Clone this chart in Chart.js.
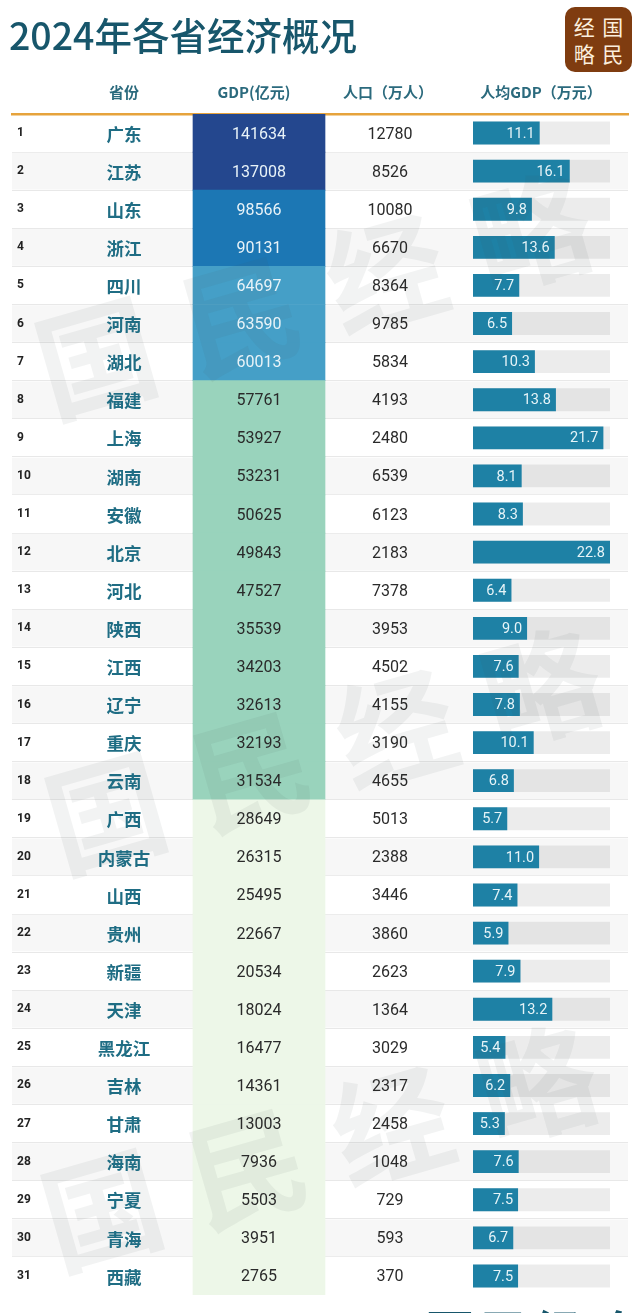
<!DOCTYPE html>
<html lang="zh-CN">
<head>
<meta charset="utf-8">
<title>2024年各省经济概况</title>
<script src="https://cdn.jsdelivr.net/npm/chart.js@4"></script>
<style>
  html, body { margin: 0; padding: 0; background: #fff; }
  body { position: relative; width: 640px; height: 1313px; overflow: hidden; font-family: "Noto Sans CJK SC", sans-serif; }
  #chart { position: absolute; left: 0; top: 0; }
  h1 { position: absolute; left: 9px; top: 8px; margin: 0; font-size: 37.5px; line-height: 52px; font-weight: 500; color: #17566b; white-space: nowrap; }
  .logo { position: absolute; left: 565px; top: 7px; width: 67px; height: 65px; border-radius: 10px; background: #7f3c10; color: #fbeedd;
    display: grid; grid-template-columns: 1fr 1fr; align-items: center; justify-items: center; padding: 5px 5px; box-sizing: border-box; font-size: 21px; line-height: 26px; }
  .foot { position: absolute; left: 425px; top: 1301px; font-size: 50px; line-height: 60px; letter-spacing: 4px; font-weight: 700; color: #17566b; white-space: nowrap; }
</style>
</head>
<body>
<canvas id="chart" width="640" height="1313"></canvas>
<h1>2024年各省经济概况</h1>
<div class="logo"><span>经</span><span>国</span><span>略</span><span>民</span></div>
<div class="foot">国民经略</div>

<script>
// ============================================================
// Data
// ============================================================
const provinces = ["广东", "江苏", "山东", "浙江", "四川", "河南", "湖北", "福建", "上海", "湖南", "安徽", "北京", "河北", "陕西", "江西", "辽宁", "重庆", "云南", "广西", "内蒙古", "山西", "贵州", "新疆", "天津", "黑龙江", "吉林", "甘肃", "海南", "宁夏", "青海", "西藏"];
const gdp = [141634, 137008, 98566, 90131, 64697, 63590, 60013, 57761, 53927, 53231, 50625, 49843, 47527, 35539, 34203, 32613, 32193, 31534, 28649, 26315, 25495, 22667, 20534, 18024, 16477, 14361, 13003, 7936, 5503, 3951, 2765];
const population = [12780, 8526, 10080, 6670, 8364, 9785, 5834, 4193, 2480, 6539, 6123, 2183, 7378, 3953, 4502, 4155, 3190, 4655, 5013, 2388, 3446, 3860, 2623, 1364, 3029, 2317, 2458, 1048, 729, 593, 370];
const perCapita = [11.1, 16.1, 9.8, 13.6, 7.7, 6.5, 10.3, 13.8, 21.7, 8.1, 8.3, 22.8, 6.4, 9.0, 7.6, 7.8, 10.1, 6.8, 5.7, 11.0, 7.4, 5.9, 7.9, 13.2, 5.4, 6.2, 5.3, 7.6, 7.5, 6.7, 7.5];
const headers = ["省份", "GDP(亿元)", "人口（万人）", "人均GDP（万元）"];

// ============================================================
// Layout + style
// ============================================================
const AREA = { left: 12, right: 628, top: 114, bottom: 1295 };
const COL = { province: 124, gdp: 259, population: 390 };
const HEADER_X = [124, 254, 388, 541];
const CELL = [193, 325];
const BAR_LEFT = 473;
const BAR_FULL_PX = 137;
const BAR_MAX = Math.max(...perCapita);
const pxPerUnit = BAR_FULL_PX / BAR_MAX;

const TEAL = "#1f6d84";
const FONT_CJK = '"Noto Sans CJK SC", sans-serif';
const FONT_NUM = "Roboto, sans-serif";

function tierColor(v) {
  if (v >= 100000) return "#24478e";
  if (v >= 80000) return "#1c77b4";
  if (v >= 60000) return "#459fc7";
  if (v >= 30000) return "#99d3bc";
  return "#edf7e8";
}

// watermark: centre of the first glyph of each repeat
const WATERMARKS = [
  { x: 96, y: 358 },
  { x: 106, y: 813 },
  { x: 102, y: 1210 },
];
const WATERMARK_TEXT = "国民经略";

// ============================================================
// Plugin: watermark + cell text
// ============================================================
const tablePlugin = {
  id: "table",
  afterDatasetsDraw(chart) {
    const { ctx, scales } = chart;
    const y = scales.y;
    const col = scales.xCol;
    const bar = scales.x;

    // watermark
    ctx.save();
    ctx.fillStyle = "rgba(70,80,80,0.07)";
    ctx.font = `700 118px ${FONT_CJK}`;
    ctx.textAlign = "center";
    ctx.textBaseline = "middle";
    WATERMARKS.forEach((w) => {
      [...WATERMARK_TEXT].forEach((ch, i) => {
        const cx = w.x + i * 145;
        const cy = w.y - i * 42;
        ctx.save();
        ctx.translate(cx, cy);
        ctx.rotate(-16 * Math.PI / 180);
        ctx.fillText(ch, 0, 0);
        ctx.restore();
      });
    });
    ctx.restore();

    // header row
    ctx.save();
    ctx.textAlign = "center";
    ctx.textBaseline = "middle";
    ctx.fillStyle = "#2b6a7d";
    ctx.font = `700 15px ${FONT_CJK}`;
    HEADER_X.forEach((x, i) => {
      ctx.fillText(headers[i], x, 92);
    });

    provinces.forEach((name, i) => {
      const py = y.getPixelForValue(i);

      ctx.textAlign = "center";
      ctx.fillStyle = TEAL;
      ctx.font = `700 17.5px ${FONT_CJK}`;
      ctx.fillText(name, col.getPixelForValue(COL.province), py + 1);

      ctx.font = `400 16px ${FONT_NUM}`;
      ctx.fillStyle = gdp[i] >= 60000 ? "#e8f3f8" : "#2a2a2a";
      ctx.fillText(String(gdp[i]), col.getPixelForValue(COL.gdp), py + 1.5);

      ctx.fillStyle = "#2a2a2a";
      ctx.fillText(String(population[i]), col.getPixelForValue(COL.population), py + 1.5);

      ctx.textAlign = "right";
      ctx.fillStyle = "#e6f4f8";
      ctx.font = `400 14.5px ${FONT_NUM}`;
      ctx.fillText(perCapita[i].toFixed(1), bar.getPixelForValue(perCapita[i]) - 5, py + 1);
    });
    ctx.restore();
  },
};

// ============================================================
// Chart
// ============================================================
new Chart(document.getElementById("chart"), {
  type: "bar",
  plugins: [tablePlugin],
  data: {
    labels: provinces,
    datasets: [
      {
        label: "人均GDP",
        xAxisID: "x",
        data: perCapita.map((v) => [0, v]),
        backgroundColor: "#1e81a5",
        barPercentage: 0.6,
        order: 1,
      },
      {
        label: "track",
        xAxisID: "x",
        data: perCapita.map(() => [0, BAR_MAX]),
        backgroundColor: "rgba(0,0,0,0.075)",
        barPercentage: 0.6,
        order: 2,
      },
      {
        label: "GDP",
        xAxisID: "xCol",
        data: gdp.map(() => CELL),
        backgroundColor: gdp.map(tierColor),
        barPercentage: 1,
        order: 3,
      },
      {
        label: "stripe",
        xAxisID: "xCol",
        data: gdp.map(() => [AREA.left, AREA.right]),
        backgroundColor: gdp.map((_, i) => (i % 2 ? "#f7f7f7" : "rgba(0,0,0,0)")),
        barPercentage: 0.96,
        order: 4,
      },
    ].map((d) => ({ ...d, grouped: false, categoryPercentage: 1, borderSkipped: false })),
  },
  options: {
    indexAxis: "y",
    responsive: false,
    animation: false,
    layout: {
      padding: { left: AREA.left, right: 640 - AREA.right, top: AREA.top, bottom: 1313 - AREA.bottom },
    },
    plugins: { legend: { display: false }, tooltip: { enabled: false } },
    scales: {
      y: {
        offset: true,
        afterFit: (s) => { s.width = 0; }, // rank labels sit inside the table
        ticks: {
          mirror: true,
          padding: 5,
          z: 1, // above the row stripes
          color: "#222",
          font: { family: FONT_NUM, size: 12, weight: "700" },
          autoSkip: false,
          callback: (_, i) => String(i + 1),
        },
        grid: {
          drawTicks: false,
          lineWidth: 1,
          // the closing line past the last row has no tick context
          color: (c) => (c.type !== "tick" || c.index === 0 ? "rgba(0,0,0,0)" : "#e8e8e8"),
        },
        border: { display: false },
      },
      x: {
        display: false,
        min: -(BAR_LEFT - AREA.left) / pxPerUnit,
        max: (AREA.right - BAR_LEFT) / pxPerUnit,
      },
      xCol: {
        position: "top",
        min: AREA.left,
        max: AREA.right,
        ticks: { display: false },
        grid: { display: false, drawTicks: false },
        border: { color: "#e6a33c", width: 2.5 },
      },
    },
  },
});
</script>
</body>
</html>
